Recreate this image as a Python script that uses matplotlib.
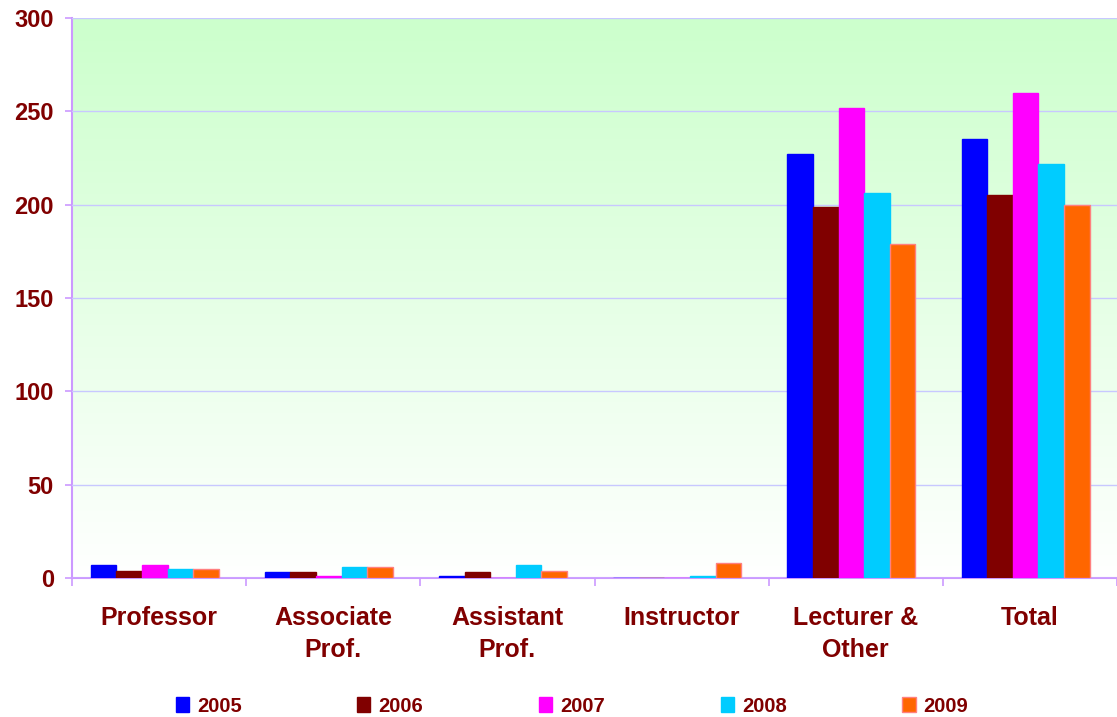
import numpy as np
import matplotlib.pyplot as plt
from matplotlib.colors import LinearSegmentedColormap

plt.rcParams['font.family'] = ['Liberation Sans', 'DejaVu Sans']

categories = ['Professor', 'Associate\nProf.', 'Assistant\nProf.', 'Instructor', 'Lecturer &\nOther', 'Total']
years = ['2005', '2006', '2007', '2008', '2009']
v2005 = [7, 3, 1, 0, 227, 235]
v2006 = [4, 3, 3, 0, 199, 205]
v2007 = [7, 1, 0, 0, 252, 260]
v2008 = [5, 6, 7, 1, 206, 222]
v2009 = [5, 6, 4, 8, 179, 200]
series = [v2005, v2006, v2007, v2008, v2009]
colors = ['#0000ff', '#800000', '#ff00ff', '#00ccff', '#ff6600']
edges = ['#0000ff', '#800000', '#ff00ff', '#00ccff', '#ff8080']

text_color = '#800000'
axis_color = '#cc99ff'

fig = plt.figure(figsize=(11.17, 7.17), dpi=100)
ax = fig.add_axes([72 / 1117, 1 - 578 / 717, 1 - 72 / 1117, 560 / 717])

# gradient background
cmap = LinearSegmentedColormap.from_list('bg', ['#ffffff', '#ccffcc'])
grad = np.linspace(0, 1, 256).reshape(-1, 1)
ax.imshow(grad, aspect='auto', cmap=cmap, origin='lower',
          extent=[-0.5, len(categories) - 0.5, 0, 300], zorder=0)

x = np.arange(len(categories))
w = 0.147
for i, (vals, c, e) in enumerate(zip(series, colors, edges)):
    ax.bar(x + (i - 2) * w - 0.025, vals, width=w, color=c, edgecolor=e, linewidth=1,
           label=years[i], zorder=3)

ax.set_xlim(-0.5, len(categories) - 0.5)
ax.set_ylim(0, 300)
ax.set_yticks(range(0, 301, 50))
ax.grid(axis='y', color='#c8c8ff', linewidth=1, zorder=1)
ax.set_axisbelow(False)

ax.set_xticks(np.arange(len(categories) + 1) - 0.5)
ax.set_xticklabels([])
ax.set_xticks(x, minor=True)
ax.set_xticklabels(categories, minor=True, fontsize=18, fontweight='bold',
                   color=text_color, linespacing=1.45)
ax.tick_params(axis='x', which='minor', length=0, pad=20)
ax.tick_params(axis='x', which='major', length=6, color=axis_color, width=1.2)
ax.tick_params(axis='y', length=5, color=axis_color, width=1.2, labelsize=17,
               labelcolor=text_color, pad=8)
for lab in ax.get_yticklabels():
    lab.set_fontweight('bold')

for s in ['top', 'right']:
    ax.spines[s].set_visible(False)
for s in ['left', 'bottom']:
    ax.spines[s].set_color(axis_color)
    ax.spines[s].set_linewidth(1.5)

leg = fig.legend(loc='center', bbox_to_anchor=(572 / 1117, 1 - 706 / 717), ncol=5,
                 frameon=False, handlelength=0.65, handleheight=0.7,
                 columnspacing=5.75, handletextpad=0.4, borderpad=0,
                 prop={'weight': 'bold', 'size': 14.5})
for t in leg.get_texts():
    t.set_color(text_color)

fig.savefig('out.png', dpi=100)
